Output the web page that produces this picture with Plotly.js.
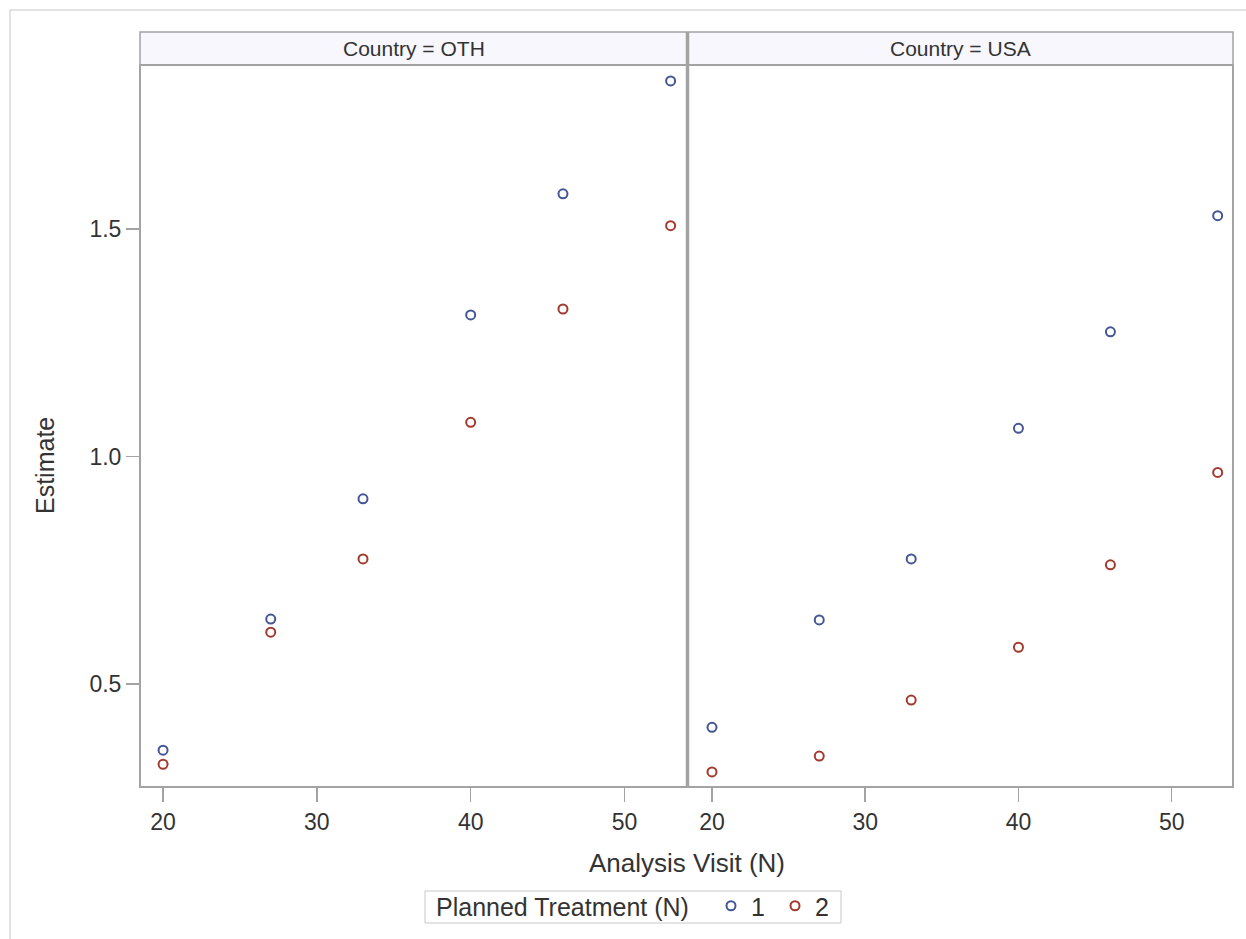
<!DOCTYPE html>
<html>
<head>
<meta charset="utf-8">
<script src="https://cdn.plot.ly/plotly-3.0.1.min.js"></script>
<style>
  html, body { margin: 0; padding: 0; background: #ffffff; }
  #chart { width: 1246px; height: 939px; }
</style>
</head>
<body>
<div id="chart"></div>
<script>
// Analysis visits (N) on the x axis
const visits = [20, 27, 33, 40, 46, 53];

// Estimates by country panel and planned treatment
const othTrt1 = [0.355, 0.643, 0.907, 1.311, 1.577, 1.825];
const othTrt2 = [0.324, 0.614, 0.775, 1.075, 1.324, 1.507];
const usaTrt1 = [0.405, 0.641, 0.775, 1.062, 1.274, 1.529];
const usaTrt2 = [0.307, 0.342, 0.465, 0.581, 0.762, 0.965];

const panelLabels = ['Country = OTH', 'Country = USA'];
const treatmentLabels = ['1', '2'];
const xTicks = [20, 30, 40, 50];
const yTicks = [0.5, 1.0, 1.5];

const W = 1246, H = 939;
const M = { l: 140, r: 13, t: 65, b: 152, autoexpand: false };
const PW = W - M.l - M.r, PH = H - M.t - M.b;
const px = v => (v - M.l) / PW;        // page x -> paper x
const py = v => (H - M.b - v) / PH;    // page y -> paper y

const blue = '#445694', red = '#a23a2e';
const frame = '#a3a3a3';
const textCol = '#333333';
const font = 'Liberation Sans, Arial, sans-serif';

function pts(x, y, color, name, xa, ya, show) {
  return {
    type: 'scatter', mode: 'markers', x: x, y: y, name: name,
    xaxis: xa, yaxis: ya, showlegend: show, legendgroup: name,
    marker: { symbol: 'circle-open', size: 9, color: color, line: { width: 2, color: color } },
    hoverinfo: 'x+y'
  };
}

const data = [
  pts(visits, othTrt1, blue, treatmentLabels[0], 'x', 'y', true),
  pts(visits, othTrt2, red, treatmentLabels[1], 'x', 'y', true),
  pts(visits, usaTrt1, blue, treatmentLabels[0], 'x2', 'y2', false),
  pts(visits, usaTrt2, red, treatmentLabels[1], 'x2', 'y2', false)
];

const split = px(687.5);
const xCommon = {
  range: [18.5, 54], tickvals: xTicks, ticks: 'outside', ticklen: 14,
  tickwidth: 1.5, tickcolor: frame, showgrid: false, zeroline: false,
  showline: false, tickfont: { family: font, size: 23, color: textCol }
};
const yCommon = {
  range: [0.274, 1.86], tickvals: yTicks, tickformat: '.1f',
  showgrid: false, zeroline: false, showline: false
};

const shapes = [
  // outer page frame
  { type: 'rect', xref: 'paper', yref: 'paper', x0: px(10), x1: px(1260), y0: py(950), y1: py(10),
    line: { color: '#d9d9d9', width: 1.5 }, layer: 'below' },
  // header strips
  { type: 'rect', xref: 'paper', yref: 'paper', x0: px(140), x1: px(1233), y0: py(65), y1: py(32),
    fillcolor: '#f7f7fd', line: { color: frame, width: 1.5 }, layer: 'below' },
  // plot area frame
  { type: 'rect', xref: 'paper', yref: 'paper', x0: 0, x1: 1, y0: 0, y1: 1,
    line: { color: frame, width: 2 } },
  // panel divider
  { type: 'line', xref: 'paper', yref: 'paper', x0: split, x1: split, y0: 0, y1: py(32),
    line: { color: frame, width: 3.5 } },
  // legend box
  { type: 'rect', xref: 'paper', yref: 'paper', x0: px(425), x1: px(841), y0: py(923), y1: py(891),
    line: { color: '#c8c8c8', width: 1 } }
];

const annotations = [
  { text: panelLabels[0], xref: 'paper', yref: 'paper', x: (0 + split) / 2, y: py(48.5),
    showarrow: false, xanchor: 'center', yanchor: 'middle', font: { family: font, size: 21, color: textCol } },
  { text: panelLabels[1], xref: 'paper', yref: 'paper', x: (split + 1) / 2, y: py(48.5),
    showarrow: false, xanchor: 'center', yanchor: 'middle', font: { family: font, size: 21, color: textCol } },
  { text: 'Analysis Visit (N)', xref: 'paper', yref: 'paper', x: 0.5, y: py(863),
    showarrow: false, xanchor: 'center', yanchor: 'middle', font: { family: font, size: 26, color: textCol } },
  { text: 'Estimate', xref: 'paper', yref: 'paper', x: px(45), y: py(466), textangle: -90,
    showarrow: false, xanchor: 'center', yanchor: 'middle', font: { family: font, size: 25, color: textCol } },
  // legend heading
  { text: 'Planned Treatment (N)', xref: 'paper', yref: 'paper', x: px(434), y: py(907),
    showarrow: false, xanchor: 'left', yanchor: 'middle', font: { family: font, size: 25, color: textCol } }
];

const layout = {
  width: W, height: H, margin: M,
  paper_bgcolor: '#ffffff', plot_bgcolor: '#ffffff',
  font: { family: font, color: textCol },
  xaxis: Object.assign({ domain: [0, px(686)], anchor: 'y' }, xCommon),
  xaxis2: Object.assign({ domain: [px(689), 1], anchor: 'y2' }, xCommon),
  yaxis: Object.assign({ domain: [0, 1], anchor: 'x', ticks: 'outside', ticklen: 13, tickwidth: 1.5,
    tickcolor: frame, tickfont: { family: font, size: 23, color: textCol } }, yCommon),
  yaxis2: Object.assign({ domain: [0, 1], anchor: 'x2', matches: 'y', showticklabels: false, ticks: '' }, yCommon),
  showlegend: true,
  legend: {
    orientation: 'h', x: px(711), xanchor: 'left', y: py(883), yanchor: 'top',
    font: { family: font, size: 25, color: textCol },
    bordercolor: 'rgba(0,0,0,0)', borderwidth: 0, bgcolor: 'rgba(0,0,0,0)',
    itemwidth: 30, entrywidth: 19, tracegroupgap: 0
  },
  shapes: shapes,
  annotations: annotations
};

Plotly.newPlot('chart', data, layout, { displayModeBar: false, staticPlot: true });
</script>
</body>
</html>
